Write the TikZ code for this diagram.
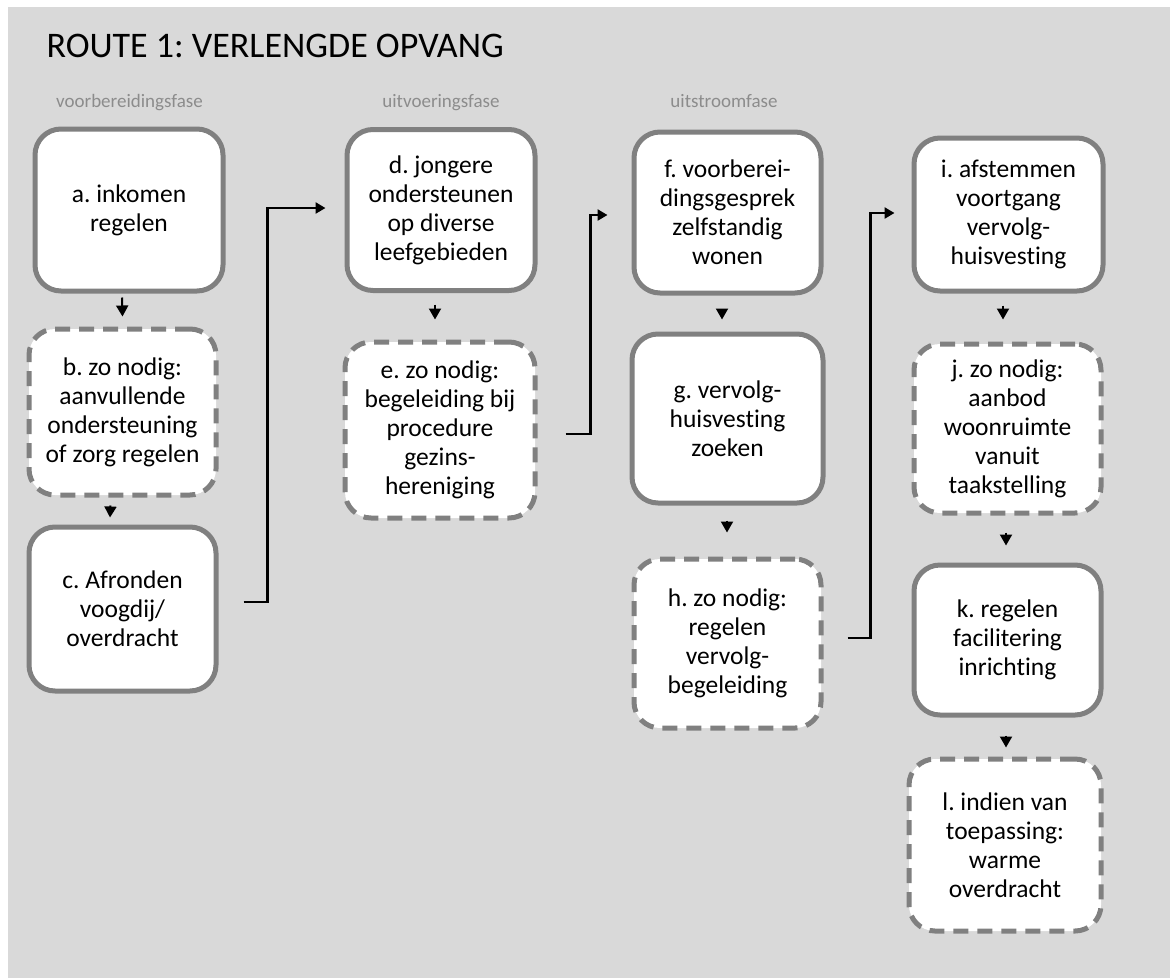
\documentclass[tikz,border=0pt]{standalone}
\usepackage{fontspec}
\setmainfont{Carlito}[Ligatures=NoCommon]
\usetikzlibrary{arrows.meta,calc}
\definecolor{bggray}{RGB}{217,217,217}
\definecolor{boxgray}{RGB}{128,128,128}
\definecolor{phasegray}{RGB}{140,140,140}
\frenchspacing
\begin{document}
\begin{tikzpicture}[x=1pt,y=-1pt,
  box/.style={draw=boxgray, line width=5pt, fill=white, rounded corners=26pt,
    align=center, font=\fontsize{25.5}{29}\selectfont, inner sep=0pt},
  dbox/.style={box, dash pattern=on 15pt off 9pt},
  arr/.style={line width=2pt, -{Triangle[width=12pt,length=11pt]}},
  conn/.style={line width=2.5pt, -{Triangle[width=11pt,length=10pt]}},
  phase/.style={text=phasegray, font=\fontsize{19}{22}\selectfont, anchor=base}]
\useasboundingbox (0,0) rectangle (1170,978);
\fill[white] (0,0) rectangle (1170,978);
\fill[bggray] (8,7) rectangle (1170,978);

\node[anchor=base west, font=\fontsize{36}{40}\selectfont] (title) at (43,57) {ROUTE 1: VERLENGDE OPVANG};
\node[phase] (p1) at (129.5,107) {voorbereidingsfase};
\node[phase] (p2) at (441,107) {uitvoeringsfase};
\node[phase] (p3) at (724,107) {uitstroomfase};

\node[box, minimum width=188pt, minimum height=162pt] (a) at (129,210) {a. inkomen\\regelen};
\node[dbox, minimum width=187pt, minimum height=166pt] (b) at (122.5,412) {b. zo nodig:\\aanvullende\\ondersteuning\\of zorg regelen};
\node[box, minimum width=187pt, minimum height=164pt] (c) at (122.5,609) {c. Afronden\\voogdij/\\overdracht};
\node[box, minimum width=188pt, minimum height=161pt] (d) at (441,210) {d. jongere\\ondersteunen\\op diverse\\leefgebieden};
\node[dbox, minimum width=190pt, minimum height=176pt] (e) at (440,430) {e. zo nodig:\\begeleiding bij\\procedure\\gezins-\\hereniging};
\node[box, minimum width=187pt, minimum height=161pt] (f) at (727.5,212.5) {f. voorberei-\\dingsgesprek\\zelfstandig\\wonen};
\node[box, minimum width=191pt, minimum height=169pt] (g) at (727.5,418.5) {g. vervolg-\\huisvesting\\zoeken};
\node[dbox, minimum width=187pt, minimum height=169pt] (h) at (727.5,643.5) {h. zo nodig:\\regelen\\vervolg-\\begeleiding};
\node[box, minimum width=189pt, minimum height=153pt] (i) at (1008.5,214.5) {i. afstemmen\\voortgang\\vervolg-\\huisvesting};
\node[dbox, minimum width=187pt, minimum height=169pt] (j) at (1007.5,428.5) {j. zo nodig:\\aanbod\\woonruimte\\vanuit\\taakstelling};
\node[box, minimum width=187pt, minimum height=150pt] (k) at (1007.5,640) {k. regelen\\facilitering\\inrichting};
\node[dbox, minimum width=192pt, minimum height=172pt] (l) at (1005,845) {l. indien van\\toepassing:\\warme\\overdracht};

\draw[arr] ([xshift=-7pt,yshift=-4pt]a.south) -- ([yshift=10pt]b.north);
\draw[arr] ([xshift=-12pt,yshift=-8pt]b.south) -- ([xshift=-12.5pt,yshift=7pt]c.north);
\draw[arr] ([xshift=-6pt,yshift=-11.5pt]d.south) -- ([xshift=-5pt,yshift=20pt]e.north);
\draw[arr] ([xshift=-5.5pt,yshift=-14pt]f.south) -- ([xshift=-5.5pt,yshift=12pt]g.north);
\draw[arr] ([xshift=-0.5pt,yshift=-15pt]g.south) -- ([xshift=-0.5pt,yshift=24pt]h.north);
\draw[arr] ([xshift=-5.5pt,yshift=-12pt]i.south) -- ([xshift=-4.5pt,yshift=22pt]j.north);
\draw[arr] ([xshift=-1.5pt,yshift=-17pt]j.south) -- ([xshift=-1.5pt,yshift=17pt]k.north);
\draw[arr] ([xshift=-1.5pt,yshift=-18pt]k.south) -- ([xshift=1pt,yshift=9pt]l.north);

\draw[conn] ([xshift=25pt,yshift=7pt]c.east) -- ++(24,0) |- ([xshift=-19pt,yshift=2pt]d.west);
\draw[conn] ([xshift=28pt,yshift=-4pt]e.east) -- ++(25,0) |- ([xshift=-24pt,yshift=-2.5pt]f.west);
\draw[conn] ([xshift=24pt,yshift=5.5pt]h.east) -- ++(23,0) |- ([xshift=-17pt,yshift=1.5pt]i.west);
\end{tikzpicture}
\end{document}
